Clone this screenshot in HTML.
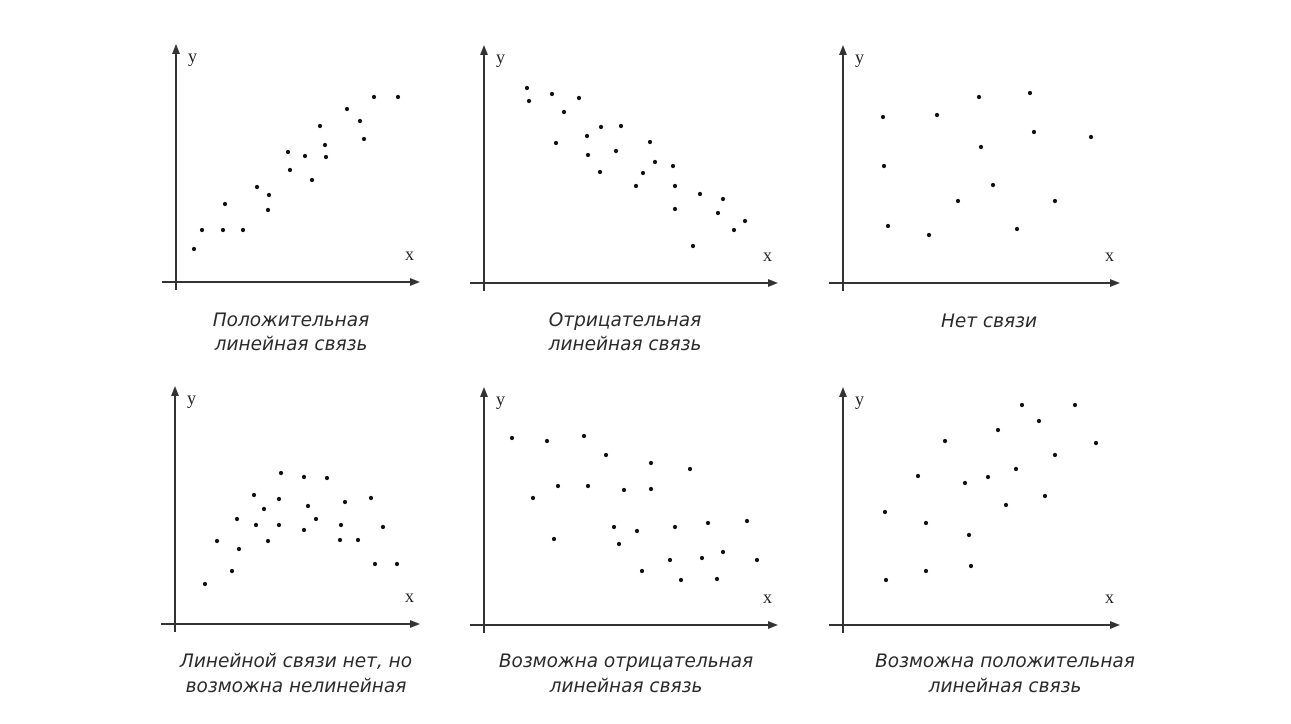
<!DOCTYPE html>
<html><head><meta charset="utf-8"><style>
body{margin:0;background:#fff;width:1291px;height:724px;overflow:hidden}
svg{display:block}
.cap{font-family:"DejaVu Sans","Liberation Sans",sans-serif;font-style:italic;font-size:18.5px;fill:#2a2a2a}
.ax{font-family:"Liberation Serif",serif;font-size:18px;fill:#222}
</style></head><body>
<svg id="chart" width="1291" height="724" viewBox="0 0 1291 724" xmlns="http://www.w3.org/2000/svg"></svg>
<script>
// Data in chart units (x right of y-axis, y above x-axis)
const posX=[18,26,49,47,67,81,93,92,112,114,129,136,144,149,150,171,184,188,198,222];
const posY=[33,52,78,52,52,95,87,72,130,112,126,102,156,137,125,173,161,143,185,185];
const negX=[43,45,68,80,95,72,103,117,137,104,132,116,166,171,159,152,189,191,191,216,239,234,261,250,209];
const negY=[195,182,189,171,185,140,147,156,157,128,132,111,141,121,110,97,117,97,74,89,84,70,62,53,37];
const noneX=[40,41,45,94,86,136,138,115,150,187,191,174,212,248];
const noneY=[166,117,57,168,48,186,136,82,98,190,151,54,82,146];
const nonlinX=[30,42,57,64,62,79,81,89,93,104,106,104,129,133,129,141,152,165,166,170,183,196,200,208,222];
const nonlinY=[40,83,53,75,105,129,99,115,83,125,151,99,147,118,94,105,146,84,99,122,84,126,60,97,60];
const maybeNegX=[28,63,100,49,74,70,104,122,140,167,167,130,135,153,158,191,186,206,197,224,218,233,239,263,273];
const maybeNegY=[187,184,189,127,139,86,139,170,135,162,136,98,81,94,54,98,65,156,45,102,67,46,73,104,65];
const maybePosX=[42,43,75,83,83,102,122,126,128,145,155,163,173,179,196,202,212,232,253];
const maybePosY=[113,45,149,102,54,184,142,90,59,148,195,120,156,220,204,129,170,220,182];
const captions=[["Положительная","линейная связь"],["Отрицательная","линейная связь"],["Нет связи"],["Линейной связи нет, но","возможна нелинейная"],["Возможна отрицательная","линейная связь"],["Возможна положительная","линейная связь"]];

const panels=[
 {name:"positive",ox:176,oy:282,xl:420,cx:291,cy:[320,344],xs:posX,ys:posY},
 {name:"negative",ox:484,oy:283,xl:778,cx:625,cy:[320,344],xs:negX,ys:negY},
 {name:"none",ox:843,oy:283,xl:1120,cx:989,cy:[321],xs:noneX,ys:noneY},
 {name:"nonlinear",ox:175,oy:624,xl:420,cx:296,cy:[661,686],xs:nonlinX,ys:nonlinY},
 {name:"maybe-negative",ox:484,oy:625,xl:778,cx:626,cy:[661,686],xs:maybeNegX,ys:maybeNegY},
 {name:"maybe-positive",ox:843,oy:625,xl:1120,cx:1005,cy:[661,686],xs:maybePosX,ys:maybePosY}
];
const svg=document.getElementById('chart');
const NS="http://www.w3.org/2000/svg";
function mk(t,a,p){const e=document.createElementNS(NS,t);for(const k in a)e.setAttribute(k,a[k]);(p||svg).appendChild(e);return e;}
panels.forEach((p,i)=>{
 const g=mk('g',{});
 
 
 const sx=v=>p.ox+v, sy=v=>p.oy-v;
 const ya=mk('line',{x1:p.ox,y1:p.oy+8,x2:p.ox,y2:p.oy-234,stroke:'#333','stroke-width':2},g);
 
 
 mk('path',{d:`M${p.ox-4},${p.oy-228} L${p.ox},${p.oy-238} L${p.ox+4},${p.oy-228} Z`,fill:'#333'},g);
 const xa=mk('line',{x1:p.ox-14,y1:p.oy,x2:p.xl-4,y2:p.oy,stroke:'#333','stroke-width':2},g);
 
 
 mk('path',{d:`M${p.xl-10},${p.oy-4} L${p.xl},${p.oy} L${p.xl-10},${p.oy+4} Z`,fill:'#333'},g);
 const yt=mk('text',{x:p.ox+12,y:p.oy-220,class:'ax'},g);yt.textContent='y';
 
 
 const xt=mk('text',{x:p.xl-15,y:p.oy-22,class:'ax'},g);xt.textContent='x';
 
 
 p.xs.forEach((v,j)=>{
  const c=mk('circle',{cx:sx(v),cy:sy(p.ys[j]),r:2.1,fill:'#111'},g);
  
  
 });
 captions[i].forEach((s,k)=>{
  const t=mk('text',{x:p.cx,y:p.cy[k]+6,'text-anchor':'middle',class:'cap'},g);
  t.textContent=s;
  
  
 });
});
</script>
</body></html>
